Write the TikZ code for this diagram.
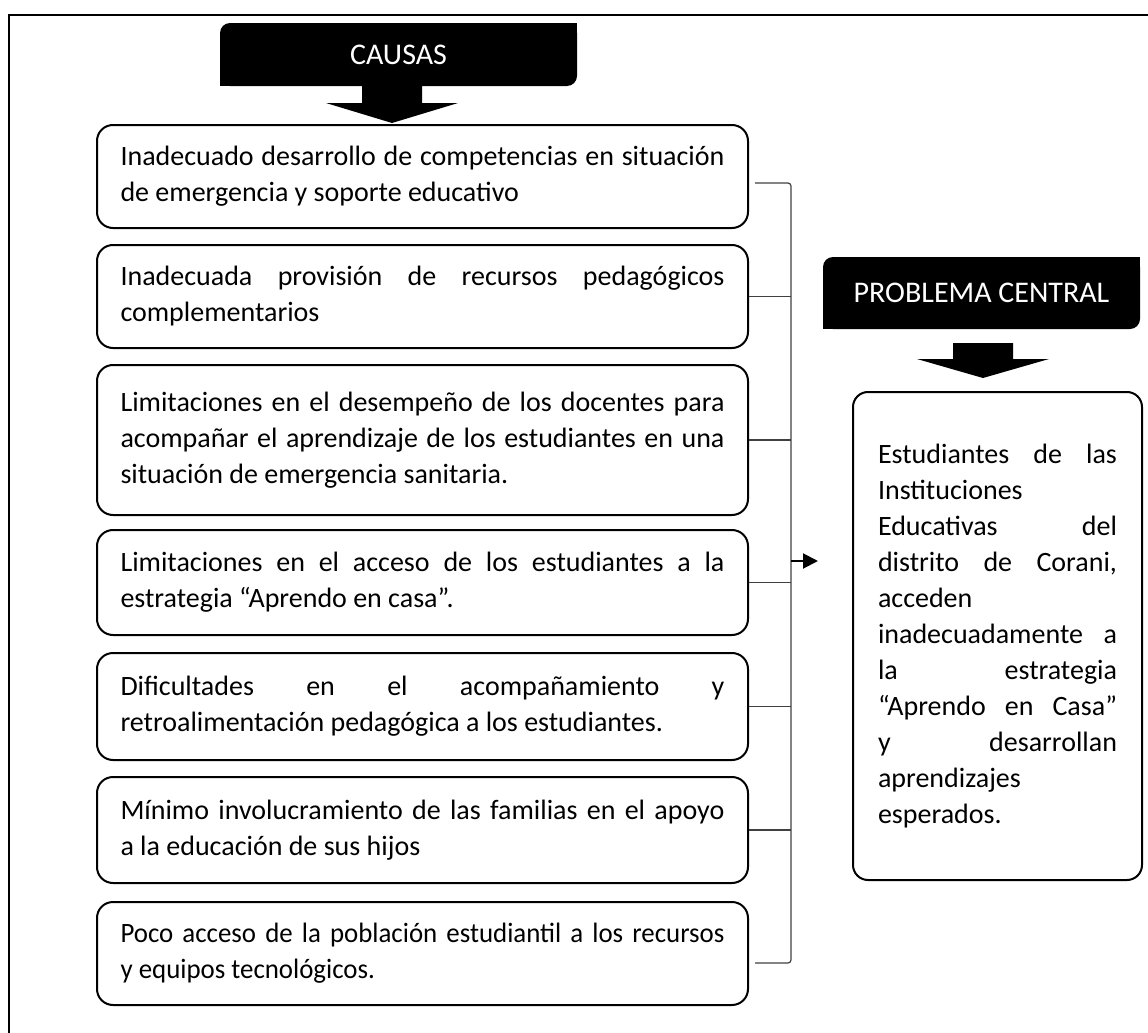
\documentclass[tikz,border=0pt]{standalone}
\usepackage{fontspec}
\setmainfont{Carlito}
\usepackage{tikz}
\usetikzlibrary{arrows.meta, positioning, calc}
\hyphenpenalty=10000
\exhyphenpenalty=10000

\begin{document}
\begin{tikzpicture}[x=0.5pt, y=-0.5pt,
    causa/.style={draw, line width=1pt, rounded corners=8pt, text width=302pt, inner xsep=11.75pt, inner ysep=0pt, minimum width=325.5pt, align=justify, font=\fontsize{14}{18}\selectfont},
    central/.style={causa, text width=119.5pt, inner xsep=12.5pt, minimum width=144.5pt, rounded corners=7.5pt},
    header/.style={fill=black, text=white, rounded corners=5pt, inner sep=0pt, font=\fontsize{15}{18}\selectfont},
    blockarrow/.style={fill=black},
    bracket/.style={draw=black!75, line width=0.6pt, rounded corners=1.5pt},
    frame/.style={line width=1.3pt}
]
    % Page and frame (cut at the right and bottom)
    \useasboundingbox (0,0) rectangle (1148,1033);
    \coordinate (frametop) at (1148,15);
    \coordinate (framebot) at (9,1033);
    \draw[frame] (framebot) |- (frametop);

    % Headers (round diagonal corners)
    \node[header, minimum width=178.5pt, minimum height=31.5pt] (causas) at (398.5,54.5) {CAUSAS};
    \fill (causas.north east) rectangle ++(-6pt,-6pt);
    \fill (causas.south west) rectangle ++(6pt,6pt);

    \node[header, minimum width=158.5pt, minimum height=36pt] (prob) at (981.5,293) {PROBLEMA CENTRAL};
    \fill (prob.north east) rectangle ++(-6pt,-6pt);
    \fill (prob.south west) rectangle ++(6pt,6pt);

    % Block arrows below the headers
    \coordinate (tipA) at (392,123);
    \fill[blockarrow] (tipA) -- ++(-66,-20) -- ++(36,0) -- ++(0,-17.5) -- ++(60,0) -- ++(0,17.5) -- ++(36,0) -- cycle;
    \coordinate (tipB) at (983,378);
    \fill[blockarrow] (tipB) -- ++(-66,-19) -- ++(36,0) -- ++(0,-16) -- ++(60,0) -- ++(0,16) -- ++(36,0) -- cycle;

    % Causes (left column)
    \node[causa, minimum height=51.5pt] (c1) at (422.5,176.5) {Inadecuado desarrollo de competencias en situación\linebreak de emergencia y soporte educativo};
    \node[causa, minimum height=51.5pt] (c2) at (422.5,296.5) {Inadecuada provisión de recursos pedagógicos\linebreak complementarios};
    \node[causa, minimum height=75pt] (c3) at (422.5,440) {Limitaciones en el desempeño de los docentes para\linebreak acompañar el aprendizaje de los estudiantes en una\linebreak situación de emergencia sanitaria.};
    \node[causa, minimum height=52.5pt] (c4) at (422.5,582.5) {Limitaciones en el acceso de los estudiantes a la\linebreak estrategia “Aprendo en casa”.};
    \node[causa, minimum height=53.5pt] (c5) at (422.5,706.5) {\parfillskip=0pt Dificultades en el acompañamiento y\linebreak retroalimentación pedagógica a los estudiantes.};
    \node[causa, minimum height=53pt] (c6) at (422.5,830) {Mínimo involucramiento de las familias en el apoyo\linebreak a la educación de sus hijos};
    \node[causa, minimum height=51.5pt] (c7) at (422.5,953.5) {\addfontfeature{FakeStretch=0.96}Poco acceso de la población estudiantil a los recursos\linebreak y equipos tecnológicos.};

    % Central problem (right column)
    \node[central, minimum height=244pt] (central) at (997.5,636) {Estudiantes de las\linebreak Instituciones\linebreak Educativas del\linebreak distrito de Corani,\linebreak acceden\linebreak inadecuadamente a\linebreak la estrategia\linebreak “Aprendo en Casa”\linebreak y desarrollan\linebreak aprendizajes\linebreak esperados.\par\vspace{10pt}};

    % Bracket joining the causes
    \coordinate (brtop) at (791,183);
    \coordinate (brbot) at (791,963);
    \draw[bracket] ($(c1.east |- brtop)+(6,0)$) -- (brtop) -- (brbot) -- ($(c7.east |- brbot)+(6,0)$);
    \draw[bracket] (c2.east) -- (c2.east -| brtop);
    \draw[bracket] (c3.east) -- (c3.east -| brtop);
    \draw[bracket] (c4.east) -- (c4.east -| brtop);
    \draw[bracket] (c5.east) -- (c5.east -| brtop);
    \draw[bracket] (c6.east) -- (c6.east -| brtop);

    % Arrow towards the central problem
    \coordinate (joint) at (791,561);
    \coordinate (jointtip) at (818,561);
    \draw[-{Triangle[length=7.5pt, width=7.5pt]}, line width=1pt] (joint) -- (jointtip);
\end{tikzpicture}
\end{document}
